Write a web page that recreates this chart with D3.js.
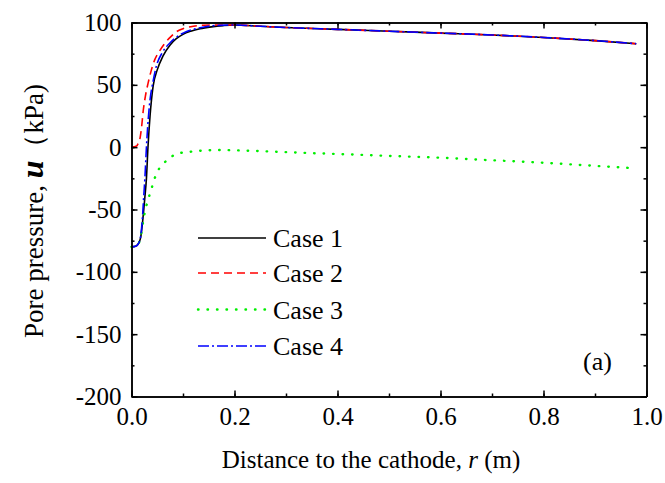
<!DOCTYPE html>
<html>
<head>
<meta charset="utf-8">
<script src="https://cdn.jsdelivr.net/npm/d3@7"></script>
<style>
  body { margin: 0; background: #fff; }
  svg { display: block; font-family: "Liberation Serif", "Times New Roman", serif; }
</style>
</head>
<body>
<div class="visContainer"></div>
<script>
// Data: r (m) and pore pressure u (kPa).
const case1R = [0, 0.008, 0.014, 0.018, 0.022, 0.026, 0.029, 0.032, 0.036, 0.042, 0.05, 0.061, 0.075, 0.087, 0.1, 0.115, 0.133, 0.155, 0.178, 0.2, 0.25, 0.3, 0.4, 0.5, 0.6, 0.7, 0.8, 0.9, 0.98];
const case1U = [-80, -79.5, -77, -72, -58, -40, -25, 0, 25, 49, 62, 73, 82, 87, 90.5, 93, 95, 96.5, 97.5, 98, 97, 96, 94.5, 93, 91.5, 90, 88, 85.5, 83];

const case2R = [0, 0.01, 0.013, 0.016, 0.019, 0.023, 0.027, 0.032, 0.038, 0.045, 0.055, 0.065, 0.076, 0.087, 0.1, 0.12, 0.14, 0.165, 0.2, 0.25, 0.3, 0.4, 0.5, 0.6, 0.7, 0.8, 0.9, 0.98];
const case2U = [0, 1, 3, 6, 14, 30, 41, 51, 61, 70, 77.5, 83.5, 88.5, 92.5, 95, 97, 97.8, 98, 98, 97, 96, 94.5, 93, 91.5, 90, 88, 85.5, 83];

const case3R = [0, 0.008, 0.012, 0.016, 0.02, 0.023, 0.027, 0.032, 0.039, 0.045, 0.052, 0.06, 0.071, 0.08, 0.091, 0.1, 0.114, 0.133, 0.15, 0.172, 0.2, 0.25, 0.3, 0.4, 0.5, 0.6, 0.7, 0.8, 0.9, 0.98];
const case3U = [-80, -79.5, -78, -75, -67, -58.6, -50, -42.5, -33, -25, -18.4, -14, -9.8, -7, -5, -4.3, -3.7, -2.9, -2.5, -2.3, -2.5, -3.2, -4, -5.5, -7, -8.5, -10.5, -12.5, -15, -17];

const case4R = [0, 0.008, 0.014, 0.018, 0.021, 0.024, 0.026, 0.029, 0.033, 0.036, 0.042, 0.048, 0.06, 0.074, 0.09, 0.107, 0.125, 0.146, 0.17, 0.2, 0.25, 0.3, 0.4, 0.5, 0.6, 0.7, 0.8, 0.9, 0.98];
const case4U = [-80, -79.5, -77, -71, -58, -38, -25, 0, 25, 38, 53, 64.6, 76, 83.4, 89, 92.8, 95, 96.8, 97.7, 98, 97, 96, 94.5, 93, 91.5, 90, 88, 85.5, 83];

const caseNames = ['Case 1', 'Case 2', 'Case 3', 'Case 4'];
const xTicks = [0, 0.2, 0.4, 0.6, 0.8, 1.0];
const yTicks = [-200, -150, -100, -50, 0, 50, 100];

// SVG constants.
const width = 665;
const height = 483;
const plotLeft = 131.5, plotRight = 646.5, plotTop = 22.5, plotBottom = 396.5;

const series = [
  { r: case1R, u: case1U, color: '#000000', dash: null, width: 1.6, cap: 'butt' },
  { r: case2R, u: case2U, color: '#ff0000', dash: '8,5', width: 1.6, cap: 'butt' },
  { r: case3R, u: case3U, color: '#00ee00', dash: '0.5,9', width: 2.4, cap: 'round' },
  { r: case4R, u: case4U, color: '#0000ff', dash: '11,3,2,3', width: 1.6, cap: 'butt' }
];

const xScale = d3.scaleLinear().domain([0, 1]).range([plotLeft, plotRight]);
const yScale = d3.scaleLinear().domain([-200, 100]).range([plotBottom, plotTop]);

const svg = d3.select('.visContainer')
  .append('svg')
  .attr('width', width)
  .attr('height', height);

const line = d3.line()
  .x(d => xScale(d[0]))
  .y(d => yScale(d[1]))
  .curve(d3.curveMonotoneX);

// Curves.
series.forEach(s => {
  svg.append('path')
    .datum(s.r.map((r, i) => [r, s.u[i]]))
    .attr('fill', 'none')
    .attr('stroke', s.color)
    .attr('stroke-width', s.width)
    .attr('stroke-dasharray', s.dash)
    .attr('stroke-linecap', s.cap)
    .attr('d', line);
});

// Axes, ticks pointing inward on all four sides.
const fmtX = d => d.toFixed(1);
const fmtY = d => String(d);
const xMinor = d3.range(0, 1.0001, 0.1);
const yMinor = d3.range(-200, 100.001, 25);

function styleAxis(g) {
  g.selectAll('path, line').attr('stroke', '#000').attr('stroke-width', 1.5);
  g.selectAll('text').attr('fill', '#000').attr('font-size', '25px')
    .attr('font-family', '"Liberation Serif", "Times New Roman", serif');
}

svg.append('g').attr('transform', `translate(0,${plotBottom})`)
  .call(d3.axisBottom(xScale).tickValues(xMinor).tickSize(-3).tickSizeOuter(0).tickFormat(''))
  .call(styleAxis);
svg.append('g').attr('transform', `translate(0,${plotBottom})`)
  .call(d3.axisBottom(xScale).tickValues(xTicks).tickSize(-6).tickSizeOuter(0).tickPadding(11).tickFormat(fmtX))
  .call(styleAxis);
svg.append('g').attr('transform', `translate(0,${plotTop})`)
  .call(d3.axisTop(xScale).tickValues(xMinor).tickSize(-3).tickSizeOuter(0).tickFormat(''))
  .call(styleAxis);
svg.append('g').attr('transform', `translate(0,${plotTop})`)
  .call(d3.axisTop(xScale).tickValues(xTicks).tickSize(-6).tickSizeOuter(0).tickFormat(''))
  .call(styleAxis);

svg.append('g').attr('transform', `translate(${plotLeft},0)`)
  .call(d3.axisLeft(yScale).tickValues(yMinor).tickSize(-3).tickSizeOuter(0).tickFormat(''))
  .call(styleAxis);
svg.append('g').attr('transform', `translate(${plotLeft},0)`)
  .call(d3.axisLeft(yScale).tickValues(yTicks).tickSize(-6).tickSizeOuter(0).tickPadding(10).tickFormat(fmtY))
  .call(styleAxis);
svg.append('g').attr('transform', `translate(${plotRight},0)`)
  .call(d3.axisRight(yScale).tickValues(yMinor).tickSize(-3).tickSizeOuter(0).tickFormat(''))
  .call(styleAxis);
svg.append('g').attr('transform', `translate(${plotRight},0)`)
  .call(d3.axisRight(yScale).tickValues(yTicks).tickSize(-6).tickSizeOuter(0).tickFormat(''))
  .call(styleAxis);

// Axis titles.
const xTitle = svg.append('text')
  .attr('x', 371)
  .attr('y', 468)
  .attr('text-anchor', 'middle')
  .attr('font-size', '25px');
xTitle.append('tspan').text('Distance to the cathode, ');
xTitle.append('tspan').attr('font-style', 'italic').text('r');
xTitle.append('tspan').text(' (m)');

const yTitle = svg.append('text')
  .attr('transform', 'translate(43,211) rotate(-90)')
  .attr('text-anchor', 'middle')
  .attr('font-size', '27px');
yTitle.append('tspan').text('Pore pressure, ');
yTitle.append('tspan').attr('font-style', 'italic').attr('font-weight', 'bold')
  .attr('font-size', '32px').text('u');
yTitle.append('tspan').text('\uFF08kPa)');

// Legend.
const legendX1 = 198, legendX2 = 266;
const legendRows = [238, 273, 309.5, 346];
series.forEach((s, i) => {
  svg.append('line')
    .attr('x1', legendX1).attr('x2', legendX2)
    .attr('y1', legendRows[i]).attr('y2', legendRows[i])
    .attr('stroke', s.color)
    .attr('stroke-width', s.width)
    .attr('stroke-dasharray', s.dash)
    .attr('stroke-linecap', s.cap);
  svg.append('text')
    .attr('x', 273)
    .attr('y', legendRows[i] + 9)
    .attr('font-size', '26px')
    .text(caseNames[i]);
});

// Panel label.
svg.append('text')
  .attr('x', 583)
  .attr('y', 370)
  .attr('font-size', '26px')
  .text('(a)');
</script>
</body>
</html>
